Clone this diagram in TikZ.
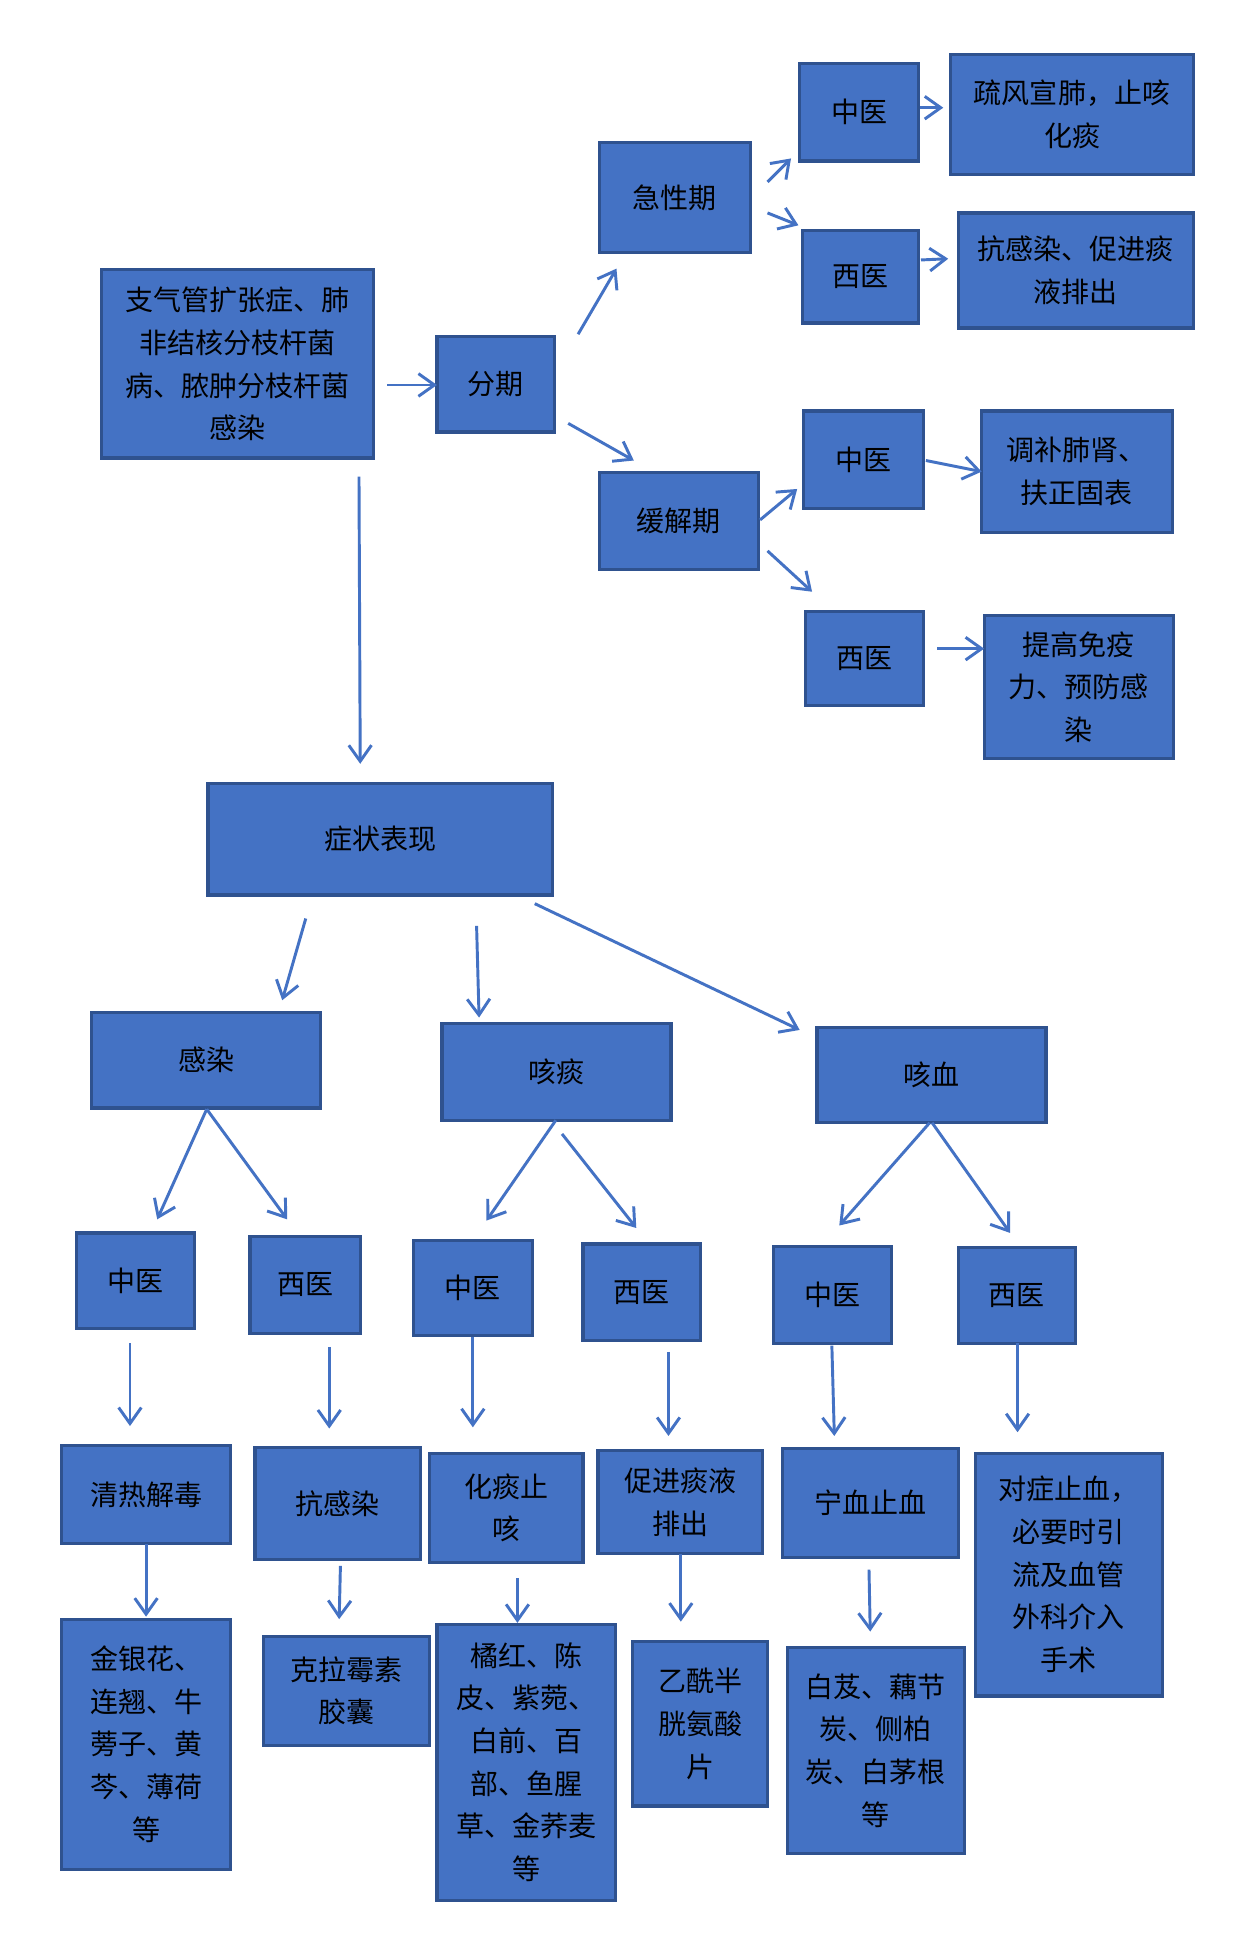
\documentclass[tikz,border=0pt]{standalone}
\usepackage{fontspec}
\newfontfamily\cjk{Noto Sans CJK SC}
\usetikzlibrary{arrows.meta}
\definecolor{boxblue}{HTML}{4472C4}
\definecolor{boxline}{HTML}{2F528F}
\definecolor{arrblue}{HTML}{4472C4}
\newcommand\mkbox[6]{\node[box, minimum width={(#4-#2)*0.928pt}, minimum height={(#5-#3)*0.928pt}] (#1) at ({(#2+#4)/2},{(#3+#5)/2}) {#6};}
\newcommand\mkarr[5]{\coordinate (#1s) at (#2,#3); \coordinate (#1e) at (#4,#5); \draw[arr] (#1s) -- (#1e);}
\begin{document}
\begin{tikzpicture}[x=0.928pt, y=-0.928pt,
  box/.style={draw=boxline, fill=boxblue, line width=2.4pt, inner sep=0pt, align=center, text=black, font=\cjk\fontsize{21}{32}\selectfont},
  arr/.style={draw=arrblue, line width=2.2pt, -{Straight Barb[length=12pt,width=17pt]}}]
\fill[white] (0,0) rectangle (1003,1568);
\useasboundingbox (0,0) rectangle (1003,1568);
% top part
\mkbox{main}{82}{218}{302}{370}{支气管扩张症、肺\\非结核分枝杆菌\\病、脓肿分枝杆菌\\感染}
\mkbox{fq}{353}{272}{448}{349}{分期}
\mkbox{jx}{484}{115}{606}{204}{急性期}
\mkbox{hj}{484}{382}{613}{460}{缓解期}
\mkbox{jz}{646}{51}{742}{130}{中医}
\mkbox{jzt}{768}{44}{964}{141}{疏风宣肺，止咳\\化痰}
\mkbox{jw}{648}{186}{742}{261}{西医}
\mkbox{jwt}{774}{172}{964}{265}{抗感染、促进痰\\液排出}
\mkbox{hz}{649}{332}{746}{411}{中医}
\mkbox{hzt}{793}{332}{947}{430}{调补肺肾、\\扶正固表}
\mkbox{hw}{651}{494}{746}{570}{西医}
\mkbox{hwt}{795}{497}{948}{613}{提高免疫\\力、预防感\\染}
% symptoms
\mkbox{zz}{168}{633}{446}{723}{症状表现}
\mkbox{gr}{74}{818}{259}{895}{感染}
\mkbox{kt}{357}{827}{542}{905}{咳痰}
\mkbox{kx}{660}{830}{845}{907}{咳血}
\mkbox{z1}{62}{996}{157}{1073}{中医}
\mkbox{w1}{202}{999}{291}{1077}{西医}
\mkbox{z2}{334}{1002}{430}{1079}{中医}
\mkbox{w2}{471}{1005}{566}{1083}{西医}
\mkbox{z3}{625}{1007}{720}{1085}{中医}
\mkbox{w3}{774}{1008}{869}{1085}{西医}
\mkbox{t1}{50}{1168}{186}{1247}{清热解毒}
\mkbox{t2}{206}{1169}{340}{1260}{抗感染}
\mkbox{t3}{347}{1174}{471}{1262}{化痰止\\咳}
\mkbox{t4}{483}{1172}{616}{1255}{促进痰液\\排出}
\mkbox{t5}{632}{1170}{774}{1258}{宁血止血}
\mkbox{t6}{788}{1174}{939}{1370}{对症止血，\\必要时引\\流及血管\\外科介入\\手术}
\mkbox{d1}{50}{1308}{186}{1510}{金银花、\\连翘、牛\\蒡子、黄\\芩、薄荷\\等}
\mkbox{d2}{213}{1322}{347}{1410}{克拉霉素\\胶囊}
\mkbox{d3}{353}{1312}{497}{1535}{橘红、陈\\皮、紫菀、\\白前、百\\部、鱼腥\\草、金荞麦\\等}
\mkbox{d4}{511}{1326}{620}{1459}{乙酰半\\胱氨酸\\片}
\mkbox{d5}{636}{1331}{779}{1497}{白芨、藕节\\炭、侧柏\\炭、白茅根\\等}
% arrows
\mkarr{a1}{313}{311}{353}{311}
\mkarr{a2}{467}{270}{498}{217}
\mkarr{a3}{459}{342}{512}{372}
\mkarr{a4}{620}{147}{639}{128}
\mkarr{a5}{620}{172}{645}{182}
\mkarr{a6}{743}{87}{762}{87}
\mkarr{a7}{744}{210}{766}{209}
\mkarr{a8}{614}{420}{644}{395}
\mkarr{a9}{620}{445}{656}{478}
\mkarr{a10}{748}{372}{793}{381}
\mkarr{a11}{757}{524}{795}{524}
\mkarr{a12}{290}{385}{291}{617}
\mkarr{a13}{247}{742}{228}{808}
\mkarr{a14}{385}{748}{387}{822}
\mkarr{a15}{432}{730}{646}{832}
\mkarr{a16}{167}{896}{127}{985}
\mkarr{a17}{167}{896}{232}{985}
\mkarr{a18}{449}{905}{393}{986}
\mkarr{a19}{454}{916}{514}{992}
\mkarr{a20}{751}{907}{678}{990}
\mkarr{a21}{753}{907}{816}{996}
\mkarr{a22}{105}{1085}{105}{1152}
\mkarr{a23}{266}{1088}{266}{1154}
\mkarr{a24}{382}{1080}{382}{1153}
\mkarr{a25}{540}{1092}{540}{1160}
\mkarr{a26}{672}{1087}{674}{1160}
\mkarr{a27}{822}{1085}{822}{1157}
\mkarr{a28}{118}{1247}{118}{1306}
\mkarr{a29}{275}{1265}{274}{1308}
\mkarr{a30}{418}{1275}{418}{1311}
\mkarr{a31}{550}{1255}{550}{1310}
\mkarr{a32}{702}{1268}{703}{1318}
\end{tikzpicture}
\end{document}
